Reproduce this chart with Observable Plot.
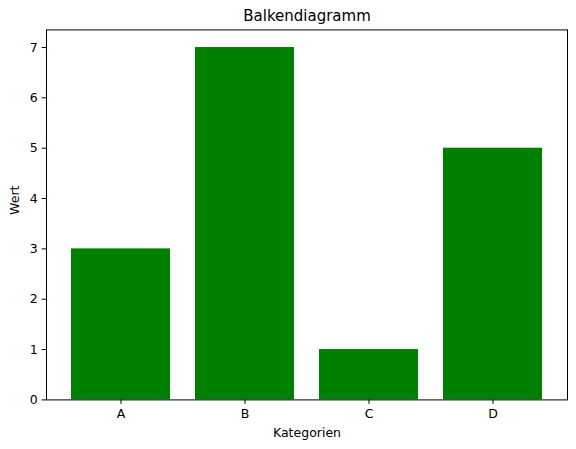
<!DOCTYPE html>
<html>
<head>
<meta charset="utf-8">
<script src="https://cdn.jsdelivr.net/npm/d3@7"></script>
<script src="https://cdn.jsdelivr.net/npm/@observablehq/plot@0.6"></script>
<style>
  html, body { margin: 0; padding: 0; background: #fff; }
  #chart svg { display: block; }
  #chart svg text { font-family: "DejaVu Sans", sans-serif; }
</style>
</head>
<body>
<div id="chart"></div>
<script>
const categories = ["A", "B", "C", "D"];
const values = [3, 7, 1, 5];
const yTicks = [0, 1, 2, 3, 4, 5, 6, 7];
const title = "Balkendiagramm";
const xLabel = "Kategorien";
const yLabel = "Wert";

const data = categories.map((c, i) => ({ category: c, value: values[i] }));

const font = "DejaVu Sans";

const chart = Plot.plot({
  width: 576,
  height: 449,
  marginLeft: 46,
  marginRight: 9,
  marginTop: 29.4,
  marginBottom: 49.6,
  style: { fontFamily: font, fontSize: "12.5px", color: "black", background: "white" },
  x: { domain: categories, paddingInner: 0.2, paddingOuter: 0.19, align: 0.5, label: null },
  y: { domain: [0, 7.35], label: null },
  marks: [
    Plot.barY(data, { x: "category", y: "value", fill: "#008000" }),
    Plot.axisX({ tickSize: 4.4, tickPadding: 4.4, fontSize: 12.5, fontFamily: font, label: null, stroke: "black", strokeWidth: 1, fill: "black" }),
    Plot.axisY(yTicks, { tickSize: 4.4, tickPadding: 4.4, fontSize: 12.5, fontFamily: font, tickFormat: d3.format("d"), label: null, stroke: "black", strokeWidth: 1, fill: "black" }),
    Plot.frame({ stroke: "black", strokeWidth: 1 }),
    Plot.text([title], { frameAnchor: "top", lineAnchor: "bottom", dy: -8.5, fontSize: 15, fontFamily: font, fill: "black" }),
    Plot.text([xLabel], { frameAnchor: "bottom", lineAnchor: "bottom", dy: 37.5, fontSize: 12.5, fontFamily: font, fill: "black" }),
    Plot.text([yLabel], { frameAnchor: "left", rotate: -90, dx: -32, fontSize: 12.5, fontFamily: font, fill: "black" })
  ]
});

document.getElementById("chart").appendChild(chart);
</script>
</body>
</html>
